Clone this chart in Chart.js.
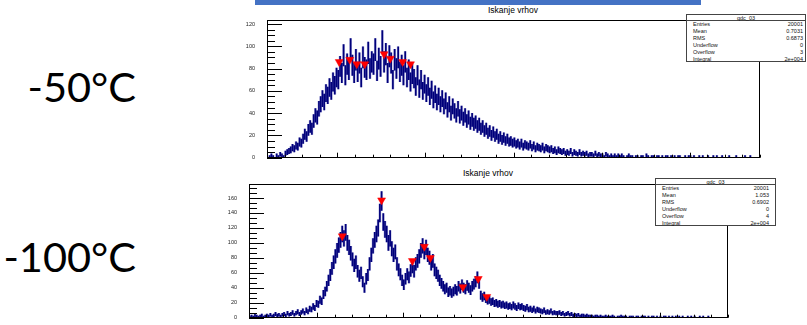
<!DOCTYPE html>
<html>
<head>
<meta charset="utf-8">
<title>Iskanje vrhov</title>
<script src="https://cdn.jsdelivr.net/npm/chart.js@4.4.1/dist/chart.umd.min.js"></script>
<style>
  body { margin: 0; width: 807px; height: 325px; background: #fff; position: relative; overflow: hidden; font-family: "Liberation Sans", Arial, sans-serif; }
  .band { position: absolute; left: 255px; top: 0; width: 446px; height: 5px; background: #4472c4; }
  .temp { position: absolute; right: 671px; font-family: Lato, sans-serif; font-size: 41.5px; line-height: 43px; color: #000; white-space: nowrap; }
  .title { position: absolute; width: 200px; text-align: center; font-size: 8.5px; line-height: 9px; color: #000; }
  .plot { position: absolute; }
  .stats { position: absolute; background: #fff; border: 1px solid #444; box-sizing: border-box; font-size: 5.5px; color: #111; }
  .stats .head { height: 6px; line-height: 6px; text-align: center; border-bottom: 1px solid #444; box-sizing: border-box; }
  .stats .row { height: 7px; line-height: 7px; display: flex; justify-content: space-between; padding-left: 6px; }
</style>
</head>
<body>
<div class="band"></div>

<div class="temp" style="top:65px">-50°C</div>
<div class="temp" style="top:235px">-100°C</div>

<div class="title" style="left:413px; top:6px">Iskanje vrhov</div>
<div class="title" style="left:388px; top:169px">Iskanje vrhov</div>

<div class="plot" style="left:230px; top:0; width:577px; height:165px"><canvas id="h50"></canvas></div>
<div class="plot" style="left:210px; top:165px; width:597px; height:160px"><canvas id="h100"></canvas></div>

<div class="stats" id="stats50" style="left:686px; top:14px; width:120px; height:48px"></div>
<div class="stats" id="stats100" style="left:655px; top:178px; width:121px; height:48px"></div>

<script>
// histogram binning (same for both runs)
const xMin = -0.8;
const xMax = 4.8;
const binWidth = 0.02;

// bin contents, -50 C (rows of 10 bins = 0.2 in x)
const counts50 = [
  0, 1, 2, 1, 0, 2, 1, 3, 2, 1,
  4, 5, 6, 7, 9, 8, 11, 10, 14, 13,
  17, 21, 19, 25, 28, 26, 33, 38, 36, 44,
  48, 53, 50, 58, 56, 63, 60, 68, 65, 72,
  70, 82, 76, 92, 74, 84, 79, 97, 83, 76,
  88, 77, 85, 72, 90, 81, 79, 94, 80, 86,
  84, 97, 78, 89, 82, 104, 86, 93, 76, 91,
  85, 70, 88, 80, 90, 77, 83, 74, 86, 72,
  79, 68, 75, 71, 64, 74, 62, 70, 60, 66,
  58, 64, 55, 61, 52, 57, 50, 55, 48, 53,
  46, 51, 43, 48, 40, 46, 42, 38, 44, 37,
  40, 35, 38, 33, 36, 31, 34, 30, 32, 28,
  30, 26, 28, 24, 26, 22, 24, 20, 23, 19,
  21, 17, 19, 16, 18, 15, 17, 14, 15, 13,
  14, 12, 13, 11, 13, 10, 12, 11, 10, 12,
  9, 11, 8, 10, 9, 8, 10, 7, 9, 8,
  7, 8, 6, 7, 5, 7, 6, 5, 6, 4,
  5, 4, 6, 3, 5, 4, 3, 5, 3, 4,
  3, 4, 2, 3, 3, 2, 4, 2, 3, 2,
  2, 1, 3, 2, 1, 2, 1, 2, 1, 2,
  1, 2, 1, 0, 1, 2, 1, 1, 0, 1,
  1, 0, 1, 1, 0, 2, 1, 0, 1, 1,
  0, 1, 1, 0, 1, 0, 1, 1, 0, 1,
  0, 1, 0, 1, 1, 0, 0, 1, 0, 1,
  1, 0, 1, 0, 0, 1, 0, 1, 0, 0,
  1, 0, 0, 1, 0, 1, 0, 0, 1, 0,
  0, 0, 1, 0, 0, 0, 1, 0, 0, 0,
  0, 1, 0, 0, 1, 0, 0, 0, 0, 0
];

// bin contents, -100 C
const counts100 = [
  1, 2, 1, 3, 2, 1, 2, 3, 1, 2,
  3, 2, 4, 2, 3, 5, 3, 4, 2, 4,
  5, 3, 6, 4, 5, 7, 4, 6, 8, 5,
  7, 9, 6, 10, 8, 12, 11, 15, 13, 19,
  18, 24, 22, 31, 35, 42, 50, 57, 66, 74,
  82, 90, 97, 104, 112, 106, 114, 100, 94, 86,
  78, 70, 74, 62, 56, 60, 48, 40, 52, 57,
  72, 84, 96, 104, 112, 120, 140, 156, 128, 118,
  112, 100, 106, 92, 84, 88, 72, 64, 58, 50,
  44, 52, 58, 54, 63, 68, 62, 72, 76, 82,
  90, 96, 88, 94, 84, 80, 72, 76, 64, 60,
  56, 50, 46, 42, 38, 40, 34, 36, 33, 35,
  38, 36, 42, 39, 44, 40, 38, 43, 40, 37,
  42, 45, 48, 54, 46, 30, 27, 29, 25, 23,
  24, 21, 22, 19, 20, 18, 19, 17, 18, 16,
  17, 15, 16, 14, 17, 15, 13, 16, 14, 15,
  13, 12, 14, 11, 12, 10, 12, 9, 11, 10,
  9, 8, 10, 7, 8, 7, 9, 6, 7, 6,
  6, 7, 5, 6, 4, 5, 6, 4, 5, 3,
  4, 3, 4, 2, 3, 3, 2, 3, 2, 2,
  2, 1, 2, 2, 1, 2, 1, 1, 2, 1,
  1, 1, 2, 1, 0, 1, 1, 2, 1, 1,
  1, 0, 1, 1, 1, 0, 1, 1, 0, 1,
  1, 1, 0, 1, 0, 1, 1, 0, 1, 0,
  1, 0, 1, 1, 0, 1, 0, 1, 0, 1,
  0, 1, 0, 1, 0, 0, 1, 0, 1, 0,
  1, 0, 0, 1, 0, 1, 0, 0, 1, 0,
  0, 0, 0, 0, 0, 0, 0, 0, 0, 0
];

// found peaks
const peaks50X = [0.02, 0.14, 0.22, 0.31, 0.53, 0.60, 0.74, 0.83];
const peaks50Y = [86, 88, 84, 84, 93, 89, 86, 84];
const peaks100X = [0.29, 0.75, 1.11, 1.25, 1.32, 1.70, 1.88, 1.98];
const peaks100Y = [109, 157, 76, 95, 80, 41, 52, 28];

// axes
const xTicks = [0, 1, 2, 3, 4];
const yTicks50 = [0, 20, 40, 60, 80, 100, 120];
const yTicks100 = [0, 20, 40, 60, 80, 100, 120, 140, 160];
const yMax50 = 123.6;
const yMax100 = 178.7;

// stat boxes
const statNames = ["Entries", "Mean", "RMS", "Underflow", "Overflow", "Integral"];
const stats50 = ["20001", "0.7031", "0.6873", "0", "3", "2e+004"];
const stats100 = ["20001", "1.053", "0.6902", "0", "4", "2e+004"];

function fillStats(id, values, padRight) {
  const box = document.getElementById(id);
  let html = '<div class="head">qdc_03</div>';
  statNames.forEach((n, i) => {
    html += `<div class="row" style="padding-right:${padRight}px"><span>${n}</span><span>${values[i]}</span></div>`;
  });
  box.innerHTML = html;
}
fillStats("stats50", stats50, 2);
fillStats("stats100", stats100, 6);

// error bars: bin content +- sqrt(content)
function errorBars(counts) {
  return counts.map((c, i) => {
    const x = xMin + binWidth * (i + 0.5);
    if (c <= 0) return { x, y: null };
    const e = Math.sqrt(c);
    return { x, y: [Math.max(0, c - e), c + e] };
  });
}

// ROOT-style frame with inward ticks
const frame = {
  id: "frame",
  afterDatasetsDraw(chart, args, opts) {
    const { ctx, chartArea: a, scales: { x, y } } = chart;
    ctx.save();
    ctx.strokeStyle = "#000";
    ctx.lineWidth = 1;
    ctx.beginPath();
    const nY = Math.floor(y.max / opts.yMinor + 1e-6);
    for (let i = 0; i <= nY; i++) {
      const v = i * opts.yMinor;
      const py = Math.round(y.getPixelForValue(v)) + 0.5;
      const r = v / opts.yMajor;
      const len = Math.abs(r - Math.round(r)) < 1e-6 ? 15 : 8;
      ctx.moveTo(a.left, py);
      ctx.lineTo(a.left + len, py);
    }
    const nX = Math.round((xMax - xMin) / 0.2);
    for (let i = 0; i <= nX; i++) {
      const v = xMin + i * 0.2;
      const px = Math.round(x.getPixelForValue(v)) + 0.5;
      const len = Math.abs(v - Math.round(v)) < 1e-6 ? 5 : 3;
      ctx.moveTo(px, a.bottom);
      ctx.lineTo(px, a.bottom - len);
    }
    ctx.stroke();
    ctx.strokeRect(Math.round(a.left) + 0.5, Math.round(a.top) + 0.5, Math.round(a.width) - 1, Math.round(a.height) - 1);
    ctx.restore();
  }
};

function histogram(id, counts, peaksX, peaksY, yTicks, yMax, yMinor, axisW, padRight, padTop) {
  const bars = errorBars(counts);
  new Chart(document.getElementById(id), {
    type: "bar",
    data: {
      datasets: [
        {
          type: "line",
          data: peaksX.map((px, i) => ({ x: px, y: peaksY[i] })),
          showLine: false,
          pointStyle: "triangle",
          rotation: 180,
          radius: 4.6,
          backgroundColor: "#ff0000",
          borderColor: "#ff0000",
          borderWidth: 0.5,
          order: 0
        },
        {
          data: bars,
          backgroundColor: "#00007a",
          barThickness: 1,
          grouped: false,
          order: 1
        },
        {
          data: bars,
          backgroundColor: "rgba(60, 60, 175, 0.4)",
          barThickness: 2,
          grouped: false,
          order: 2
        }
      ]
    },
    options: {
      responsive: true,
      maintainAspectRatio: false,
      animation: false,
      layout: { padding: { left: 0, right: padRight, top: padTop, bottom: 0 } },
      plugins: { legend: { display: false }, tooltip: { enabled: false }, frame: { yMinor, yMajor: 20 } },
      scales: {
        x: {
          type: "linear",
          min: xMin,
          max: xMax,
          offset: false,
          grid: { display: false },
          border: { display: false },
          afterBuildTicks: s => { s.ticks = xTicks.map(v => ({ value: v })); },
          afterFit: s => { s.height = 7; },
          ticks: { font: { family: "Liberation Sans", size: 5.5 }, color: "#222", padding: 1, maxRotation: 0 }
        },
        y: {
          min: 0,
          max: yMax,
          grid: { display: false },
          border: { display: false },
          afterBuildTicks: s => { s.ticks = yTicks.map(v => ({ value: v })); },
          afterFit: s => { s.width = axisW; },
          ticks: { font: { family: "Liberation Sans", size: 5.5 }, color: "#222", padding: 4 }
        }
      }
    },
    plugins: [frame]
  });
}

histogram("h50", counts50, peaks50X, peaks50Y, yTicks50, yMax50, 5, 37, 47, 20);
histogram("h100", counts100, peaks100X, peaks100Y, yTicks100, yMax100, 20 / 3, 39, 79, 19);
</script>
</body>
</html>
